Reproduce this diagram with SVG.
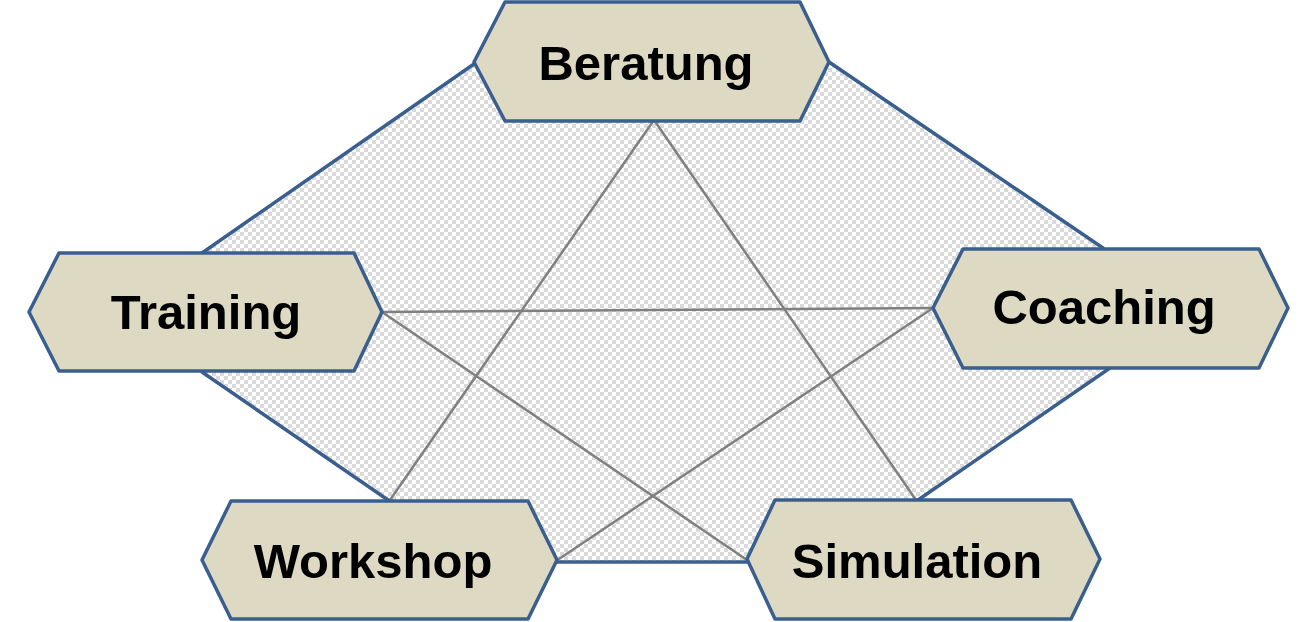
<svg xmlns="http://www.w3.org/2000/svg" width="1311" height="622" viewBox="0 0 1311 622">
<defs>
<pattern id="chk" width="8" height="8" patternUnits="userSpaceOnUse">
<rect width="8" height="8" fill="#ffffff"/>
<rect width="4" height="4" fill="#dadada"/>
<rect x="4" y="4" width="4" height="4" fill="#dadada"/>
</pattern>
</defs>
<style>
.bg{fill:url(#chk);stroke:#3a5f8f;stroke-width:3.5;stroke-linejoin:round}
.hex{fill:#ddd9c3;stroke:#3a5f8f;stroke-width:3.5;stroke-linejoin:round}
.lbl{font-family:"Liberation Sans",Arial,sans-serif;font-weight:bold;font-size:49px;fill:#000;text-anchor:middle}
.con{stroke:#808080;stroke-width:2.5;fill:none}
</style>
<rect width="1311" height="622" fill="#ffffff"/>
<polygon class="bg" points="474,64 202,253 202,372 388,500 555,562 747,562 918,500 1110,368 1103,248 829,62"/>
<g id="connectors">
<line class="con" x1="654" y1="120" x2="390" y2="500"/>
<line class="con" x1="654" y1="120" x2="916" y2="500"/>
<line class="con" x1="382" y1="312" x2="933" y2="308"/>
<line class="con" x1="382" y1="312" x2="747" y2="560"/>
<line class="con" x1="556" y1="561" x2="933" y2="308"/>
</g>
<g id="beratung">
<polygon class="hex" points="505,2 800,2 829,62 800,121 505,121 474,62"/>
<text class="lbl" x="646" y="80">Beratung</text>
</g>
<g id="training">
<polygon class="hex" points="59,253 354,253 382,312 354,371 59,371 29,312"/>
<text class="lbl" x="206" y="329">Training</text>
</g>
<g id="coaching">
<polygon class="hex" points="963,249 1259,249 1288,308 1259,368 963,368 933,308"/>
<text class="lbl" x="1104" y="324">Coaching</text>
</g>
<g id="workshop">
<polygon class="hex" points="231,501 528,501 557,560 528,619 231,619 202,560"/>
<text class="lbl" x="373" y="578">Workshop</text>
</g>
<g id="simulation">
<polygon class="hex" points="775,500 1071,500 1100,559 1071,619 775,619 747,559"/>
<text class="lbl" x="917" y="578">Simulation</text>
</g>
</svg>
